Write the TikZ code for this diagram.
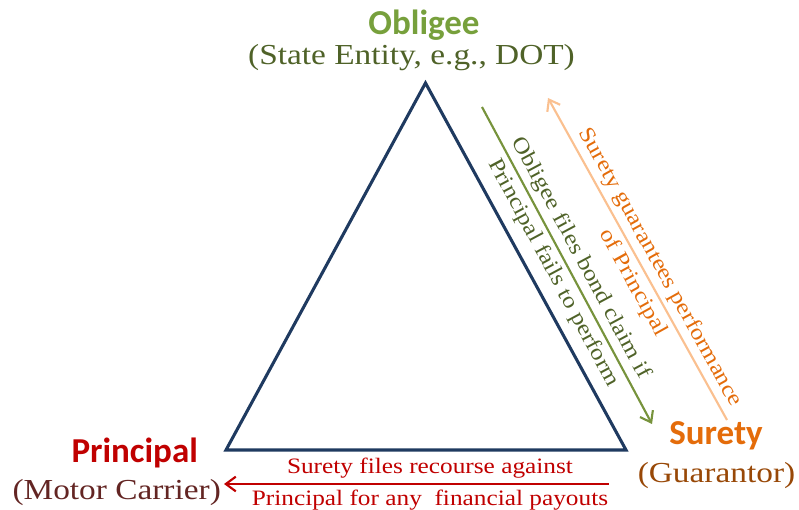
\documentclass[tikz,border=0pt]{standalone}
\usepackage{fontspec}
\setmainfont{Liberation Serif}[FakeStretch=1.15]
\setsansfont{Carlito}
\usetikzlibrary{arrows.meta}

\definecolor{navy}{HTML}{1F3A60}
\definecolor{oblgreen}{HTML}{77A03C}
\definecolor{oblgreendark}{HTML}{4F6228}
\definecolor{claimline}{HTML}{77933C}
\definecolor{prinred}{HTML}{C00000}
\definecolor{prinbrown}{HTML}{632523}
\definecolor{surorange}{HTML}{E46C0A}
\definecolor{surbrown}{HTML}{984807}
\definecolor{guarline}{HTML}{FAC090}

\begin{document}
\begin{tikzpicture}[x=0.75pt, y=0.75pt,
	role/.style={font=\sffamily\bfseries\fontsize{26.25}{30}\selectfont, anchor=base, inner sep=0pt},
	who/.style={font=\fontsize{21.75}{26}\selectfont, anchor=base, inner sep=0pt},
	note/.style={font=\fontsize{16.5}{20}\selectfont},
	tri/.style={draw=navy, line width=2.3pt},
	flow/.style={line width=1.6pt},
	>={Straight Barb[length=7.5pt,width=11pt]}]
				\useasboundingbox (0,0) rectangle (799,510);

				% corners of the triangle
				\coordinate (obl) at (425.5,427);
				\coordinate (prin) at (226,60);
				\coordinate (sur) at (626,60);
				\draw[tri] (obl) -- (prin) -- (sur) -- cycle;

				% parties
				\node[role, text=oblgreen] (oblname) at (424,475) {Obligee};
				\node[who, text=oblgreendark] (obldesc) at (411.5,445) {(State Entity, e.g., DOT)};
				\node[role, text=prinred] (prinname) at (134.7,47.3) {Principal};
				\node[who, text=prinbrown] (prindesc) at (116.7,10) {(Motor Carrier)};
				\node[role, text=surorange] (surname) at (716,65) {Surety};
				\node[who, text=surbrown] (surdesc) at (716.5,27) {(Guarantor)};

				% arrow ends
				\coordinate (claimA) at (482,403);
				\coordinate (claimB) at (652,86);
				\coordinate (guarA) at (548,412);
				\coordinate (guarB) at (727,90);
				\coordinate (recA) at (224,26);
				\coordinate (recB) at (609,26);

				\draw[flow, ->, draw=claimline] (claimA) -- (claimB)
					node[note, pos=0.5, sloped, above, text=oblgreendark] {Obligee files bond claim if}
					node[note, pos=0.5, sloped, below, text=oblgreendark] {Principal fails to perform};
				\draw[flow, <-, draw=guarline] (guarA) -- (guarB)
					node[note, pos=0.55, sloped, above, text=surorange] {Surety guarantees performance}
					node[note, pos=0.55, sloped, below, text=surorange] {of Principal};
				\draw[flow, <-, draw=prinred] (recA) -- (recB)
					node[note, pos=0.535, above, text=prinred] {Surety files recourse against}
					node[note, pos=0.535, below, text=prinred] {Principal for any\ \ financial payouts};
			\end{tikzpicture}
\end{document}
